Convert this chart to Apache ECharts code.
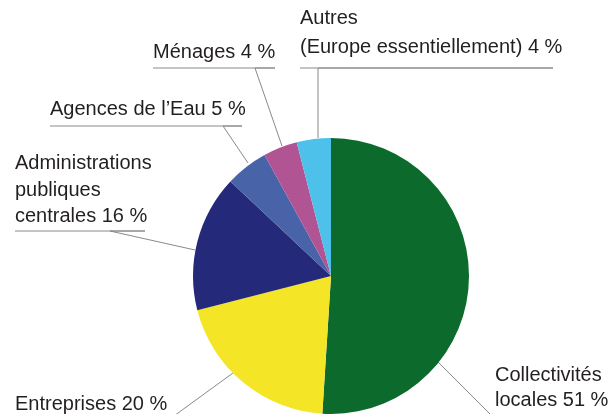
<!DOCTYPE html>
<html>
<head>
<meta charset="utf-8">
<script src="https://cdn.jsdelivr.net/npm/echarts@6/dist/echarts.min.js"></script>
<style>
html,body{margin:0;padding:0;background:#fff;}
#chart{width:609px;height:414px;}
</style>
</head>
<body>
<div id="chart"></div>
<script>
// Data
const categories = ['Collectivités\nlocales', 'Entreprises', 'Administrations\npubliques\ncentrales', 'Agences de l’Eau', 'Ménages', 'Autres\n(Europe essentiellement)'];
const values = [51, 20, 16, 5, 4, 4];
const colors = ['#0c6a2c', '#f4e526', '#24297a', '#4863a8', '#b05494', '#4ec1ea'];

// Label placement (layout only)
const labelPlacement = [
  { x: 495, y: 413, lh: 25, pts: [[438, 362], [503, 427], [620, 427]] },
  { x: 15, y: 417, lh: 25, pts: [[233, 373], [167, 421], [15, 421]] },
  { x: 15, y: 230, lh: 26.5, pts: [[195, 250], [110, 231], [145, 231], [15, 231]] },
  { x: 50, y: 122, lh: 25, pts: [[248, 163], [223, 126], [242, 126], [50, 126]] },
  { x: 153, y: 65, lh: 25, pts: [[282, 146], [255, 68], [275, 68], [153, 68]] },
  { x: 300, y: 62, lh: 29, pts: [[318, 138], [318, 68], [553, 68], [300, 68]] }
];

const chart = echarts.init(document.getElementById('chart'), null, { renderer: 'canvas' });
chart.setOption({
  animation: false,
  backgroundColor: '#fff',
  series: [{
    type: 'pie',
    center: [331, 276],
    radius: [0, 138],
    startAngle: 90,
    clockwise: true,
    avoidLabelOverlap: false,
    data: categories.map((c, i) => ({
      name: c,
      value: values[i],
      itemStyle: { color: colors[i] },
      label: { lineHeight: labelPlacement[i].lh }
    })),
    itemStyle: { borderWidth: 0 },
    label: {
      show: true,
      formatter: '{b} {c} %',
      fontFamily: 'Liberation Sans',
      fontSize: 20,
      color: '#231f20'
    },
    labelLine: {
      show: true,
      lineStyle: { color: '#8a8a8a', width: 1 }
    },
    labelLayout: function (params) {
      const p = labelPlacement[params.dataIndex];
      return {
        x: p.x,
        y: p.y,
        align: 'left',
        verticalAlign: 'bottom',
        labelLinePoints: p.pts
      };
    },
    emphasis: { disabled: true }
  }]
});
</script>
</body>
</html>
